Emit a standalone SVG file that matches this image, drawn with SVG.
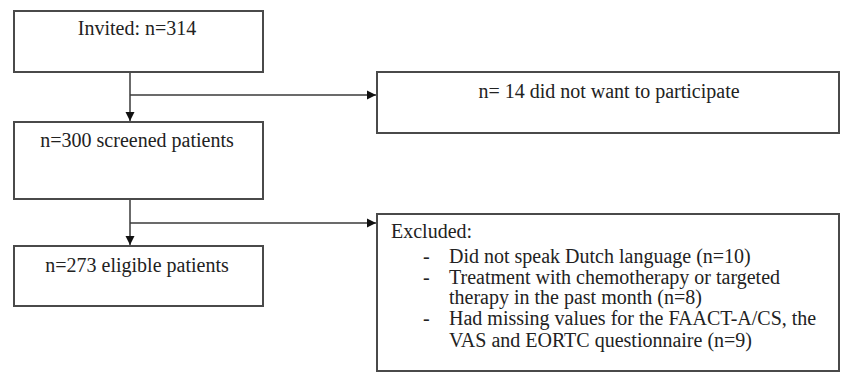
<svg xmlns="http://www.w3.org/2000/svg" width="841" height="373" viewBox="0 0 841 373">
<defs>
<style>
.box{fill:#fff;stroke:#4a4a4a;stroke-width:2}
.t{font-family:"Liberation Serif","Times New Roman",serif;font-size:20px;fill:#222}
.c{text-anchor:middle}
.ln{fill:none;stroke:#3a3a3a;stroke-width:1.5}
</style>
<marker id="ah" markerWidth="10" markerHeight="10" refX="9" refY="5" orient="auto" markerUnits="userSpaceOnUse">
<path d="M0,0.5 L9,5 L0,9.5 Z" fill="#111"/>
</marker>
</defs>
<rect width="841" height="373" fill="#fff"/>
<g id="connectors">
<path class="ln" d="M130,73 V121" marker-end="url(#ah)"/>
<path class="ln" d="M130,95 H376" marker-end="url(#ah)"/>
<path class="ln" d="M130,200 V245" marker-end="url(#ah)"/>
<path class="ln" d="M130,223 H376" marker-end="url(#ah)"/>
</g>
<g id="invited">
<rect class="box" x="14" y="11" width="249" height="61"/>
<text class="t c" x="137" y="35">Invited: n=314</text>
</g>
<g id="declined">
<rect class="box" x="377" y="72" width="462" height="61"/>
<text class="t c" x="609" y="98">n= 14 did not want to participate</text>
</g>
<g id="screened">
<rect class="box" x="14" y="122" width="249" height="77"/>
<text class="t c" x="137" y="147">n=300 screened patients</text>
</g>
<g id="eligible">
<rect class="box" x="14" y="246" width="249" height="60"/>
<text class="t c" x="137" y="272">n=273 eligible patients</text>
</g>
<g id="excluded">
<rect class="box" x="377" y="214" width="462" height="157"/>
<text class="t" x="391" y="238">Excluded:</text>
<text class="t" x="423" y="263">-</text>
<text class="t" x="449" y="263">Did not speak Dutch language (n=10)</text>
<text class="t" x="423" y="284">-</text>
<text class="t" x="449" y="284">Treatment with chemotherapy or targeted</text>
<text class="t" x="449" y="304">therapy in the past month (n=8)</text>
<text class="t" x="423" y="325">-</text>
<text class="t" x="449" y="325">Had missing values for the FAACT-A/CS, the</text>
<text class="t" x="449" y="347">VAS and EORTC questionnaire (n=9)</text>
</g>
</svg>
